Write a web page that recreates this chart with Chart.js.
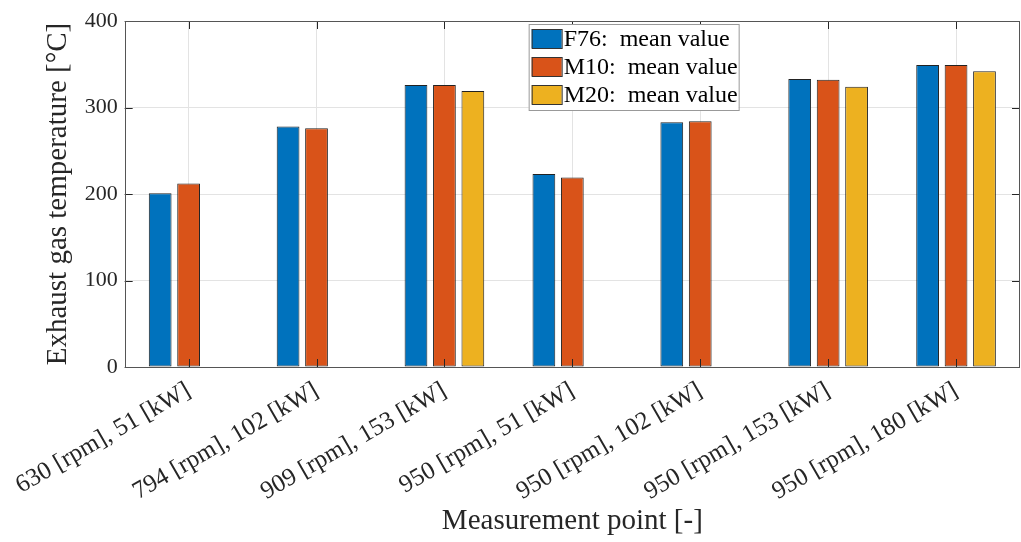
<!DOCTYPE html>
<html>
<head>
<meta charset="utf-8">
<script src="https://cdn.jsdelivr.net/npm/chart.js@4/dist/chart.umd.min.js"></script>
<style>
  html, body { margin: 0; padding: 0; background: #fff; }
</style>
</head>
<body>
<canvas id="exhaustChart" width="1021" height="542"></canvas>
<script>
// measurement points (x categories)
var measurementPoints = [
  '630 [rpm], 51 [kW]',
  '794 [rpm], 102 [kW]',
  '909 [rpm], 153 [kW]',
  '950 [rpm], 51 [kW]',
  '950 [rpm], 102 [kW]',
  '950 [rpm], 153 [kW]',
  '950 [rpm], 180 [kW]'
];

// mean exhaust gas temperature per fuel [°C], null = not measured
var f76Mean = [201, 278, 326, 223, 283, 333, 349];
var m10Mean = [212, 276, 326, 219, 284, 332, 349];
var m20Mean = [null, null, 319, null, null, 324, 342];

var seriesNames = ['F76:  mean value', 'M10:  mean value', 'M20:  mean value'];
var yTicks = [0, 100, 200, 300, 400];

var serif = "'Liberation Serif', 'DejaVu Serif', serif";
var ink = '#262626';

// MATLAB like box with inner tick marks + legend inside the axes
var boxPlugin = {
  id: 'boxPlugin',
  afterDatasetsDraw: function (chart) {
    var ctx = chart.ctx;
    var a = chart.chartArea;
    var xs = chart.scales.x, ys = chart.scales.y;
    var tl = 8;

    ctx.save();
    ctx.strokeStyle = ink;
    ctx.lineWidth = 1;
    ctx.beginPath();
    xs.ticks.forEach(function (t, i) {
      var px = Math.round(xs.getPixelForTick(i)) + 0.5;
      ctx.moveTo(px, a.bottom); ctx.lineTo(px, a.bottom - tl);
      ctx.moveTo(px, a.top); ctx.lineTo(px, a.top + tl);
    });
    ys.ticks.forEach(function (t, i) {
      var py = Math.round(ys.getPixelForTick(i)) + 0.5;
      ctx.moveTo(a.left, py); ctx.lineTo(a.left + tl, py);
      ctx.moveTo(a.right, py); ctx.lineTo(a.right - tl, py);
    });
    ctx.stroke();
    ctx.strokeStyle = '#555';
    ctx.strokeRect(Math.round(a.left) + 0.5, Math.round(a.top) + 0.5,
                   Math.round(a.right - a.left) - 1, Math.round(a.bottom - a.top));

    // legend
    var lx = a.left + 404, ly = a.top + 3, lw = 210, lh = 86;
    ctx.fillStyle = '#fff';
    ctx.fillRect(lx, ly, lw, lh);
    ctx.strokeStyle = '#999';
    ctx.strokeRect(lx + 0.5, ly + 0.5, lw, lh);
    ctx.font = '24px ' + serif;
    ctx.textBaseline = 'middle';
    chart.data.datasets.forEach(function (ds, i) {
      var cy = ly + 15 + i * 28;
      ctx.fillStyle = ds.backgroundColor;
      ctx.fillRect(lx + 3, cy - 10, 30, 19);
      ctx.strokeStyle = '#333';
      ctx.strokeRect(lx + 3.5, cy - 9.5, 30, 19);
      ctx.fillStyle = '#000';
      ctx.fillText(ds.label, lx + 35, cy + 1);
    });
    ctx.restore();
  }
};

var ctx = document.getElementById('exhaustChart');
var myChart = new Chart(ctx, {
  type: 'bar',
  data: {
    labels: measurementPoints,
    datasets: [
      { label: seriesNames[0], data: f76Mean, backgroundColor: '#0072BD' },
      { label: seriesNames[1], data: m10Mean, backgroundColor: '#D95319' },
      { label: seriesNames[2], data: m20Mean, backgroundColor: '#EDB120' }
    ]
  },
  options: {
    responsive: false,
    animation: false,
    layout: { padding: { top: 21, right: 1, left: 0, bottom: 0 } },
    datasets: {
      bar: {
        categoryPercentage: 0.667,
        barPercentage: 0.8,
        borderColor: '#222',
        borderWidth: 1,
        borderSkipped: false
      }
    },
    plugins: {
      legend: { display: false },
      tooltip: { enabled: false }
    },
    scales: {
      x: {
        grid: { offset: false, color: '#e3e3e3', drawTicks: false },
        border: { display: false },
        ticks: {
          minRotation: 30, maxRotation: 30, padding: 9,
          color: ink, font: { family: serif, size: 25 }
        },
        title: {
          display: true, text: 'Measurement point [-]', color: ink,
          font: { family: serif, size: 29 }, padding: { top: 0, bottom: 3 }
        },
        afterFit: function (s) { s.height = 175; }
      },
      y: {
        min: 0, max: 400,
        afterBuildTicks: function (s) {
          s.ticks = yTicks.map(function (v) { return { value: v }; });
        },
        grid: { color: '#e3e3e3', drawTicks: false },
        border: { display: false },
        ticks: { padding: 7, color: ink, font: { family: serif, size: 22 } },
        title: {
          display: true, text: 'Exhaust gas temperature [°C]', color: ink,
          font: { family: serif, size: 29 }, padding: { top: 40, bottom: 0 }
        },
        afterFit: function (s) { s.width = 124; }
      }
    }
  },
  plugins: [boxPlugin]
});
</script>
</body>
</html>
